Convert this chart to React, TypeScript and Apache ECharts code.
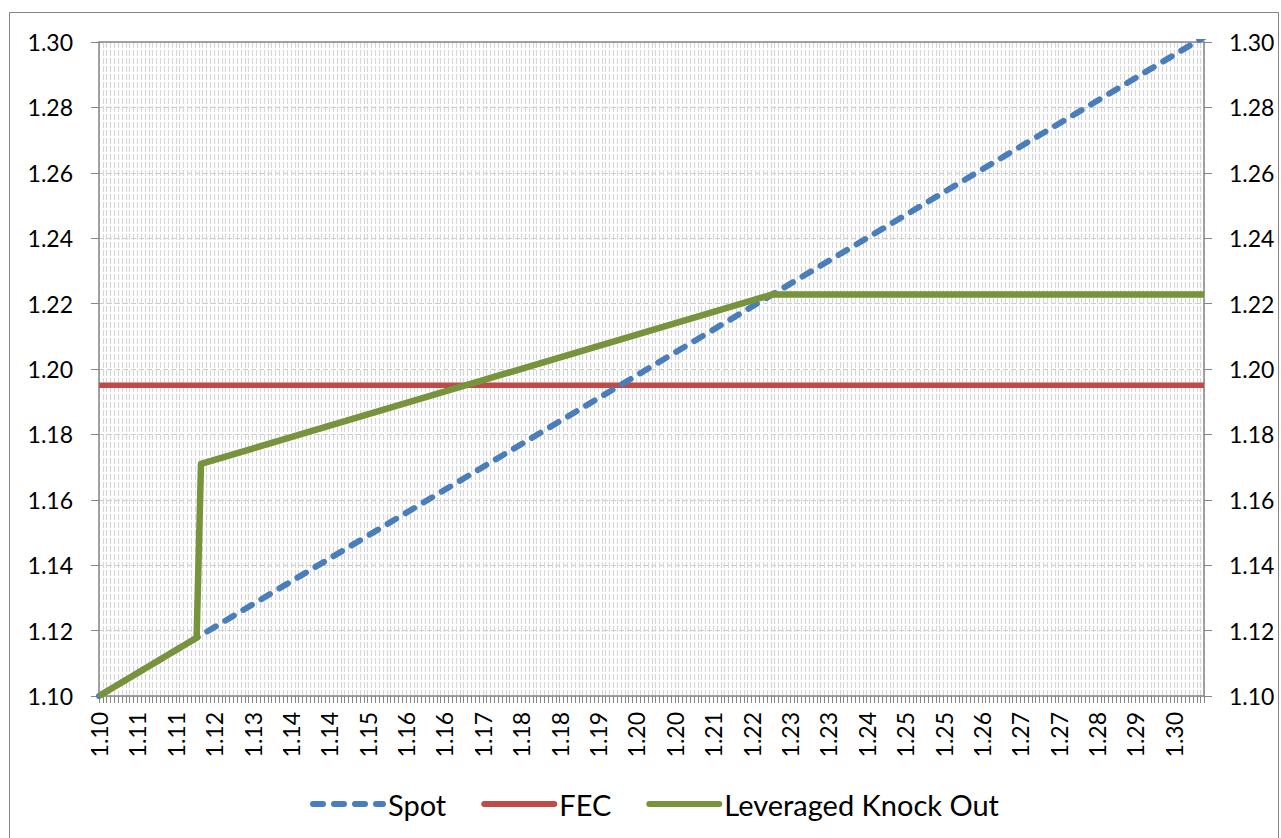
import React, { useEffect, useRef } from "react";
import * as echarts from "echarts";

// x tick labels as printed (every 10th category, step 0.0007)
const X_LABELS = [
  "1.10", "1.11", "1.11", "1.12", "1.13", "1.14", "1.14", "1.15", "1.16", "1.16",
  "1.17", "1.18", "1.18", "1.19", "1.20", "1.20", "1.21", "1.22", "1.23", "1.23",
  "1.24", "1.25", "1.25", "1.26", "1.27", "1.27", "1.28", "1.29", "1.30",
];
const X_MIN = 1.1;
const X_MAX = 1.3015;
const X_STEP = 0.0007;

const Y_MIN = 1.1;
const Y_MAX = 1.3;
const Y_STEP = 0.02;

// [spot, value]
const SPOT: [number, number][] = [
  [1.1, 1.1],
  [1.3015, 1.3015],
];
const FEC: [number, number][] = [
  [1.1, 1.195],
  [1.3015, 1.195],
];
const LKO: [number, number][] = [
  [1.1, 1.1],
  [1.1178, 1.1178],
  [1.1186, 1.171],
  [1.2228, 1.2228],
  [1.3015, 1.2228],
];

const FONT = "Lato";

export default function App() {
  const ref = useRef<HTMLDivElement>(null);
  useEffect(() => {
    if (!ref.current) return;
    const chart = echarts.init(ref.current, null, { renderer: "svg" });
    const axisGray = "#868686";
    const text = { color: "#000", fontFamily: FONT, fontSize: 23 };
    chart.setOption({
      animation: false,
      backgroundColor: "#fff",
      grid: { left: 99, right: 77, top: 42, bottom: 142, containLabel: false },
      graphic: [
        {
          type: "rect",
          shape: { x: 9.5, y: 12.5, width: 1269, height: 840 },
          style: { fill: "none", stroke: axisGray, lineWidth: 1 },
          silent: true,
          z: -1,
        },
      ],
      legend: {
        left: 305,
        top: 784,
        padding: 5,
        itemWidth: 70,
        itemHeight: 14,
        itemGap: 35,
        itemStyle: { opacity: 0 },
        lineStyle: { width: 6, cap: "round" },
        textStyle: { ...text, fontSize: 29, lineHeight: 30, padding: [0, 0, 0, 0] },
        data: ["Spot", "FEC", "Leveraged Knock Out"],
      },
      xAxis: [
        {
          type: "value",
          position: "bottom",
          min: X_MIN,
          max: X_MAX,
          interval: X_STEP,
          axisLine: { show: true, lineStyle: { color: axisGray, width: 1.5 } },
          axisTick: { show: true, length: 7, lineStyle: { color: axisGray, width: 1 } },
          splitLine: {
            show: true,
            lineStyle: { color: "#d6d6d6", width: 1.2, type: [6, 2] },
          },
          axisLabel: {
            ...text,
            rotate: 90,
            margin: 16,
            formatter: (v: number) => {
              const idx = Math.round((v - X_MIN) / X_STEP);
              if (idx % 10 !== 0) return "";
              return X_LABELS[idx / 10] ?? "";
            },
          },
        },
        {
          type: "value",
          position: "top",
          min: X_MIN,
          max: X_MAX,
          axisLine: { show: true, lineStyle: { color: axisGray, width: 1.5 } },
          axisTick: { show: false },
          axisLabel: { show: false },
          splitLine: { show: false },
        },
      ],
      yAxis: [
        {
          type: "value",
          position: "left",
          min: Y_MIN,
          max: Y_MAX,
          interval: Y_STEP,
          axisLine: { show: true, lineStyle: { color: axisGray, width: 1.5 } },
          axisTick: { show: true, length: 8, lineStyle: { color: axisGray } },
          splitLine: {
            show: true,
            lineStyle: { color: "#cccccc", width: 1.2, type: [5, 3] },
          },
          axisLabel: { ...text, margin: 26, formatter: (v: number) => v.toFixed(2) },
        },
        {
          type: "value",
          position: "right",
          min: Y_MIN,
          max: Y_MAX,
          interval: Y_STEP,
          axisLine: { show: true, lineStyle: { color: axisGray, width: 1.5 } },
          axisTick: { show: true, length: 8, lineStyle: { color: axisGray } },
          splitLine: { show: false },
          axisLabel: { ...text, margin: 25, formatter: (v: number) => v.toFixed(2) },
        },
      ],
      series: [
        {
          name: "Spot",
          type: "line",
          data: SPOT,
          showSymbol: false,
          symbol: "none",
          clip: true,
          color: "#4A7EBB",
          lineStyle: { color: "#4A7EBB", width: 6, type: [10, 11], cap: "round" },
          z: 3,
        },
        {
          name: "FEC",
          type: "line",
          data: FEC,
          showSymbol: false,
          symbol: "none",
          color: "#BE4B48",
          lineStyle: { color: "#BE4B48", width: 5.5 },
          z: 2,
        },
        {
          name: "Leveraged Knock Out",
          type: "line",
          data: LKO,
          showSymbol: false,
          symbol: "none",
          color: "#77933C",
          lineStyle: { color: "#77933C", width: 6.5, join: "round" },
          z: 4,
        },
      ],
    });
    return () => chart.dispose();
  }, []);
  return (
    <div
      ref={ref}
      style={{ position: "absolute", left: 0, top: 0, width: 1281, height: 838 }}
    />
  );
}
